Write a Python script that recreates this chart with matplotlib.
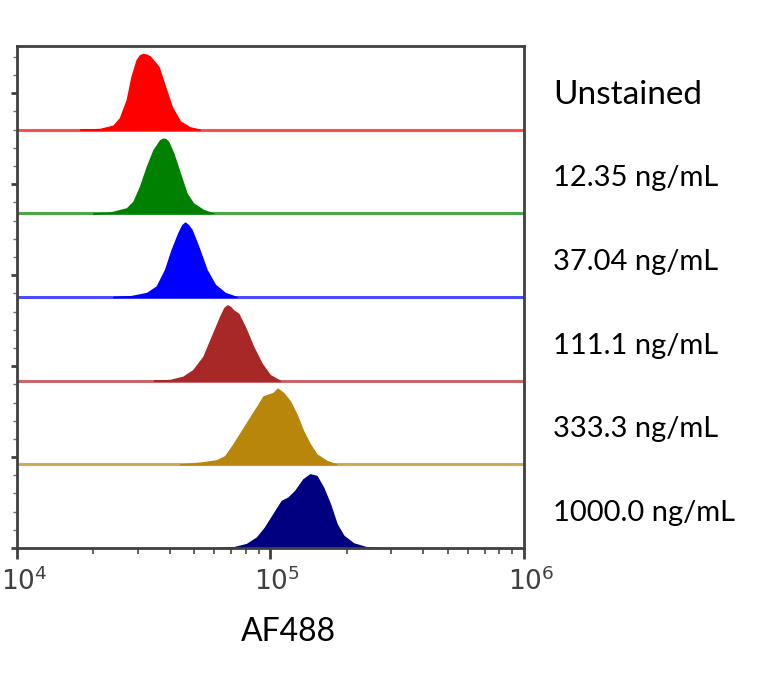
import numpy as np
import matplotlib
matplotlib.use("Agg")
import matplotlib.pyplot as plt
import matplotlib.transforms as mtransforms
from matplotlib.ticker import LogLocator, MultipleLocator, NullFormatter

matplotlib.rcParams["mathtext.fontset"] = "custom"
matplotlib.rcParams["mathtext.rm"] = "Liberation Sans"
matplotlib.rcParams["mathtext.it"] = "Liberation Sans"

# Sample labels, top to bottom.
labels = ["Unstained", "12.35 ng/mL", "37.04 ng/mL", "111.1 ng/mL", "333.3 ng/mL", "1000.0 ng/mL"]
colors = ["#ff0000", "#008000", "#0000ff", "#a82828", "#b8860b", "#000080"]

# Histogram outlines: log10(AF488) and height (fraction of one row).
unstained_x = [4.249, 4.327, 4.380, 4.406, 4.433, 4.452, 4.472, 4.485, 4.498, 4.512, 4.525, 4.558, 4.584, 4.610,
               4.643, 4.682, 4.722]
unstained_y = [0.0, 0.008, 0.048, 0.139, 0.357, 0.635, 0.833, 0.890, 0.905, 0.895, 0.873, 0.754, 0.516, 0.278,
               0.099, 0.028, 0.0]
c12_x = [4.30, 4.367, 4.433, 4.459, 4.485, 4.512, 4.538, 4.564, 4.577, 4.587, 4.597, 4.617, 4.643, 4.669, 4.695,
         4.735, 4.774]
c12_y = [0.0, 0.008, 0.060, 0.139, 0.317, 0.556, 0.754, 0.873, 0.893, 0.885, 0.853, 0.714, 0.476, 0.238, 0.119,
         0.040, 0.0]
c37_x = [4.38, 4.446, 4.512, 4.551, 4.584, 4.610, 4.636, 4.652, 4.663, 4.675, 4.689, 4.715, 4.748, 4.781, 4.821,
         4.867]
c37_y = [0.0, 0.008, 0.048, 0.127, 0.325, 0.563, 0.762, 0.860, 0.889, 0.860, 0.802, 0.603, 0.325, 0.147, 0.048,
         0.0]
c111_x = [4.54, 4.604, 4.656, 4.695, 4.735, 4.768, 4.801, 4.818, 4.830, 4.842, 4.853, 4.873, 4.899, 4.932, 4.965,
          4.998, 5.037]
c111_y = [0.0, 0.008, 0.048, 0.127, 0.286, 0.524, 0.762, 0.870, 0.901, 0.880, 0.841, 0.802, 0.643, 0.405, 0.206,
          0.067, 0.0]
c333_x = [4.643, 4.722, 4.788, 4.821, 4.853, 4.886, 4.919, 4.952, 4.972, 4.991, 5.011, 5.028, 5.051, 5.077,
          5.103, 5.129, 5.156, 5.182, 5.222, 5.261]
c333_y = [0.0, 0.020, 0.048, 0.099, 0.238, 0.397, 0.556, 0.714, 0.813, 0.833, 0.853, 0.905, 0.853, 0.754,
          0.595, 0.397, 0.238, 0.119, 0.040, 0.0]
c1000_x = [4.80, 4.853, 4.906, 4.946, 4.978, 5.011, 5.044, 5.070, 5.097, 5.129, 5.156, 5.182, 5.208, 5.235,
           5.261, 5.288, 5.327, 5.380, 5.43]
c1000_y = [0.0, 0.008, 0.048, 0.127, 0.246, 0.405, 0.563, 0.603, 0.683, 0.821, 0.881, 0.861, 0.722, 0.524,
           0.286, 0.147, 0.056, 0.008, 0.0]

curves = [(unstained_x, unstained_y), (c12_x, c12_y), (c37_x, c37_y),
          (c111_x, c111_y), (c333_x, c333_y), (c1000_x, c1000_y)]

fig = plt.figure(figsize=(7.75, 6.77), dpi=100)
ax = fig.add_axes([0.0219, 0.1905, 0.6542, 0.7416])
ax.set_xscale("log")
ax.set_xlim(1e4, 1e6)
ax.set_ylim(0, 6)

n = len(labels)
for i, (lab, col, (cx, cy)) in enumerate(zip(labels, colors, curves)):
    base = n - 1 - i
    x = 10 ** np.array(cx)
    y = np.array(cy)
    if base > 0:
        ax.axhline(base, color=col, lw=2.2, alpha=0.7, zorder=1)
    ax.fill_between(x, base, base + y, color=col, lw=1, zorder=2)
    size = 24 if i == 0 else 21
    ax.text(1.057, base + 0.42, lab, transform=ax.get_yaxis_transform(), ha="left", va="center",
            fontsize=size, family="Lato", color="black")

for s in ax.spines.values():
    s.set_color("#404040")
    s.set_linewidth(2)

ax.xaxis.set_major_locator(LogLocator(base=10, numticks=5))
ax.xaxis.set_minor_locator(LogLocator(base=10, subs=np.arange(2, 10), numticks=20))
ax.xaxis.set_minor_formatter(NullFormatter())
ax.tick_params(axis="x", which="major", direction="out", length=8, width=2, color="#404040",
               labelsize=19, labelcolor="#404040", pad=6)
ax.tick_params(axis="x", which="minor", direction="out", length=4, width=1.4, color="#606060")
shift = mtransforms.ScaledTranslation(5 / 72, 0, fig.dpi_scale_trans)
for lbl in ax.get_xticklabels():
    lbl.set_transform(lbl.get_transform() + shift)

ax.yaxis.set_major_locator(MultipleLocator(1.087))
ax.yaxis.set_minor_locator(MultipleLocator(1.087 / 5))
ax.set_yticklabels([])
ax.tick_params(axis="y", which="major", direction="out", length=4, width=2, color="#404040")
ax.tick_params(axis="y", which="minor", direction="out", length=3, width=1, color="#707070")

fig.text(288 / 775, 1 - 632 / 677, "AF488", ha="center", va="center", fontsize=23, family="Lato")

fig.savefig("out.png", dpi=100)
